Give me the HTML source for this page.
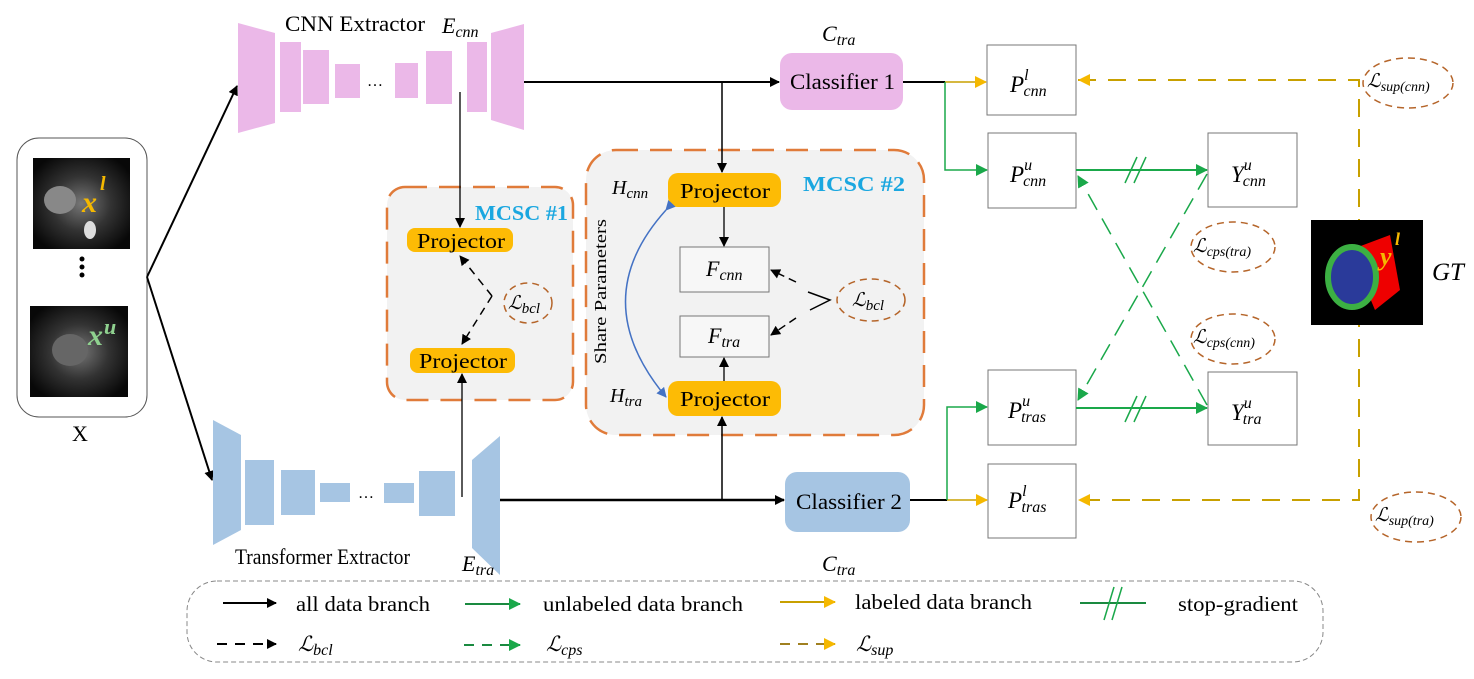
<!DOCTYPE html>
<html><head><meta charset="utf-8"><style>
html,body{margin:0;padding:0;background:#fff}
svg{display:block}
text{font-family:"Liberation Serif",serif}
.it{font-style:italic}
</style></head><body>
<svg width="1474" height="679" viewBox="0 0 1474 679" xmlns="http://www.w3.org/2000/svg">
<defs>
<marker id="ab" markerWidth="10" markerHeight="10" refX="9" refY="5" orient="auto" markerUnits="userSpaceOnUse"><path d="M0,0 L10,5 L0,10 Z" fill="#000"/></marker>
<marker id="ag" markerWidth="12" markerHeight="12" refX="11" refY="6" orient="auto" markerUnits="userSpaceOnUse"><path d="M0,0 L12,6 L0,12 Z" fill="#1aa84a"/></marker>
<marker id="ay" markerWidth="12" markerHeight="12" refX="11" refY="6" orient="auto" markerUnits="userSpaceOnUse"><path d="M0,0 L12,6 L0,12 Z" fill="#f5b800"/></marker>
<marker id="abl" markerWidth="10" markerHeight="10" refX="9" refY="5" orient="auto" markerUnits="userSpaceOnUse"><path d="M0,0 L10,5 L0,10 Z" fill="#4472c4"/></marker>
<radialGradient id="mri" cx="50%" cy="50%" r="60%"><stop offset="0" stop-color="#777"/><stop offset="0.5" stop-color="#333"/><stop offset="1" stop-color="#080808"/></radialGradient>
</defs>

<!-- input box -->
<rect x="17" y="138" width="130" height="279" rx="22" fill="#fff" stroke="#555" stroke-width="1"/>
<rect x="33" y="158" width="97" height="91" fill="url(#mri)"/>
<ellipse cx="60" cy="200" rx="16" ry="14" fill="#888"/><ellipse cx="90" cy="230" rx="6" ry="9" fill="#ddd"/>
<text x="82" y="212" class="it" font-size="30" font-weight="bold" fill="#f5b800">x</text><text x="100" y="190" class="it" font-size="20" font-weight="bold" fill="#f5b800">l</text>
<circle cx="82" cy="259" r="2.5"/><circle cx="82" cy="267" r="2.5"/><circle cx="82" cy="275" r="2.5"/>
<rect x="30" y="306" width="98" height="91" fill="url(#mri)"/>
<ellipse cx="70" cy="350" rx="18" ry="16" fill="#666"/>
<text x="88" y="345" class="it" font-size="30" font-weight="bold" fill="#8fd18f">x</text><text x="104" y="334" class="it" font-size="22" font-weight="bold" fill="#8fd18f">u</text>
<text x="80" y="441" font-size="22" text-anchor="middle">X</text>
<line x1="147" y1="277" x2="237" y2="86" stroke="#000" stroke-width="2" marker-end="url(#ab)"/>
<line x1="147" y1="277" x2="212" y2="480" stroke="#000" stroke-width="2" marker-end="url(#ab)"/>

<!-- CNN extractor -->
<g fill="#ebb8e8">
<polygon points="238,23 275,33 275,123 238,133"/>
<rect x="280" y="42" width="21" height="70"/><rect x="303" y="50" width="26" height="54"/><rect x="335" y="64" width="25" height="34"/>
<rect x="395" y="63" width="23" height="35"/><rect x="426" y="51" width="26" height="53"/><rect x="467" y="42" width="20" height="70"/>
<polygon points="491,33 524,24 524,130 491,120"/>
</g>
<text x="375" y="86" font-size="16" text-anchor="middle">…</text>
<text x="285" y="31" font-size="22" textLength="140" lengthAdjust="spacingAndGlyphs">CNN Extractor</text>
<text x="442" y="33" class="it" font-size="22">E<tspan font-size="16" dy="4">cnn</tspan></text>
<text x="822" y="41" class="it" font-size="22">C<tspan font-size="16" dy="4">tra</tspan></text>

<!-- Transformer extractor -->
<g fill="#a6c5e3">
<polygon points="213,420 241,435 241,530 213,545"/>
<rect x="245" y="460" width="29" height="65"/><rect x="281" y="470" width="34" height="45"/><rect x="320" y="483" width="30" height="19"/>
<rect x="384" y="483" width="30" height="20"/><rect x="419" y="471" width="36" height="45"/>
<polygon points="472,460 500,436 500,575 472,548"/>
</g>
<text x="366" y="498" font-size="16" text-anchor="middle">…</text>
<text x="235" y="564" font-size="22" textLength="175" lengthAdjust="spacingAndGlyphs">Transformer Extractor</text>
<text x="462" y="571" class="it" font-size="22">E<tspan font-size="16" dy="4">tra</tspan></text>
<text x="822" y="571" class="it" font-size="22">C<tspan font-size="16" dy="4">tra</tspan></text>

<!-- MCSC #1 -->
<rect x="387" y="187" width="186" height="213" rx="18" fill="#f2f2f2" stroke="#e07b3a" stroke-width="2.5" stroke-dasharray="22,12"/>
<text x="475" y="220" font-size="21" font-weight="bold" fill="#1aa7e0" textLength="93" lengthAdjust="spacingAndGlyphs">MCSC #1</text>
<rect x="407" y="228" width="106" height="24" rx="8" fill="#fdbb05"/><text x="417" y="248" font-size="21" textLength="88" lengthAdjust="spacingAndGlyphs">Projector</text>
<rect x="410" y="348" width="105" height="25" rx="8" fill="#fdbb05"/><text x="419" y="368" font-size="21" textLength="88" lengthAdjust="spacingAndGlyphs">Projector</text>
<ellipse cx="528" cy="303" rx="24" ry="20" fill="none" stroke="#b5652a" stroke-width="1.5" stroke-dasharray="7,5"/>
<text x="508" y="309" class="it" font-size="19">ℒ<tspan font-size="15" dy="4">bcl</tspan></text>
<path d="M492,296 L460,256" stroke="#000" stroke-width="1.5" stroke-dasharray="8,6" fill="none" marker-end="url(#ab)"/>
<path d="M492,296 L462,344" stroke="#000" stroke-width="1.5" stroke-dasharray="8,6" fill="none" marker-end="url(#ab)"/>
<line x1="460" y1="92" x2="460" y2="227" stroke="#000" stroke-width="1.3" marker-end="url(#ab)"/>
<line x1="462" y1="497" x2="462" y2="374" stroke="#000" stroke-width="1.3" marker-end="url(#ab)"/>

<!-- MCSC #2 -->
<rect x="586" y="150" width="338" height="285" rx="30" fill="#f2f2f2" stroke="#e07b3a" stroke-width="2.5" stroke-dasharray="22,12"/>
<text x="803" y="191" font-size="21" font-weight="bold" fill="#1aa7e0" textLength="102" lengthAdjust="spacingAndGlyphs">MCSC #2</text>
<rect x="668" y="173" width="113" height="34" rx="10" fill="#fdbb05"/><text x="680" y="198" font-size="21" textLength="90" lengthAdjust="spacingAndGlyphs">Projector</text>
<rect x="668" y="381" width="113" height="35" rx="10" fill="#fdbb05"/><text x="680" y="406" font-size="21" textLength="90" lengthAdjust="spacingAndGlyphs">Projector</text>
<rect x="680" y="247" width="89" height="45" fill="#f7f7f7" stroke="#777"/>
<text x="706" y="276" class="it" font-size="22">F<tspan font-size="16" dy="4">cnn</tspan></text>
<rect x="680" y="316" width="89" height="41" fill="#f7f7f7" stroke="#777"/>
<text x="708" y="343" class="it" font-size="22">F<tspan font-size="16" dy="4">tra</tspan></text>
<text x="612" y="194" class="it" font-size="20">H<tspan font-size="15" dy="4">cnn</tspan></text>
<text x="610" y="402" class="it" font-size="20">H<tspan font-size="15" dy="4">tra</tspan></text>
<text transform="translate(606,364) rotate(-90)" font-size="17" textLength="145" lengthAdjust="spacingAndGlyphs">Share Parameters</text>
<path d="M666,210 Q585,300 666,397" fill="none" stroke="#4472c4" stroke-width="1.5" marker-end="url(#abl)" marker-start="url(#abl)"/>
<line x1="724" y1="207" x2="724" y2="246" stroke="#000" stroke-width="1.3" marker-end="url(#ab)"/>
<line x1="724" y1="381" x2="724" y2="358" stroke="#000" stroke-width="1.3" marker-end="url(#ab)"/>
<path d="M808,292 L830,300 L810,310" fill="none" stroke="#000" stroke-width="1.5"/>
<line x1="796" y1="282" x2="771" y2="270" stroke="#000" stroke-width="1.5" stroke-dasharray="8,5" marker-end="url(#ab)"/>
<line x1="796" y1="318" x2="771" y2="335" stroke="#000" stroke-width="1.5" stroke-dasharray="8,5" marker-end="url(#ab)"/>
<ellipse cx="871" cy="300" rx="34" ry="21" fill="none" stroke="#b5652a" stroke-width="1.5" stroke-dasharray="7,5"/>
<text x="852" y="306" class="it" font-size="19">ℒ<tspan font-size="15" dy="4">bcl</tspan></text>

<!-- main flows -->
<line x1="524" y1="82" x2="779" y2="82" stroke="#000" stroke-width="2" marker-end="url(#ab)"/>
<line x1="722" y1="82" x2="722" y2="172" stroke="#000" stroke-width="1.5" marker-end="url(#ab)"/>
<line x1="500" y1="500" x2="784" y2="500" stroke="#000" stroke-width="2.5" marker-end="url(#ab)"/>
<line x1="722" y1="500" x2="722" y2="417" stroke="#000" stroke-width="1.5" marker-end="url(#ab)"/>
<rect x="780" y="53" width="123" height="57" rx="12" fill="#ebb8e8"/><text x="790" y="89" font-size="22" textLength="105" lengthAdjust="spacingAndGlyphs">Classifier 1</text>
<rect x="785" y="472" width="125" height="60" rx="12" fill="#a6c5e3"/><text x="796" y="509" font-size="22" textLength="106" lengthAdjust="spacingAndGlyphs">Classifier 2</text>
<line x1="903" y1="82" x2="945" y2="82" stroke="#000" stroke-width="2"/>
<line x1="910" y1="500" x2="947" y2="500" stroke="#000" stroke-width="2"/>
<line x1="945" y1="82" x2="986" y2="82" stroke="#c8a000" stroke-width="1.5" marker-end="url(#ay)"/>
<polyline points="945,82 945,170 987,170" fill="none" stroke="#1aa84a" stroke-width="1.5" marker-end="url(#ag)"/>
<line x1="947" y1="500" x2="987" y2="500" stroke="#c8a000" stroke-width="1.5" marker-end="url(#ay)"/>
<polyline points="947,500 947,407 987,407" fill="none" stroke="#1aa84a" stroke-width="1.5" marker-end="url(#ag)"/>

<!-- prediction boxes -->
<g fill="#fff" stroke="#777">
<rect x="987" y="45" width="89" height="70"/><rect x="988" y="133" width="88" height="75"/>
<rect x="1208" y="133" width="89" height="74"/><rect x="988" y="370" width="88" height="75"/>
<rect x="1208" y="372" width="89" height="73"/><rect x="988" y="464" width="88" height="74"/>
</g>
<g class="it" font-size="23">
<text x="1010" y="92">P<tspan font-size="16" dx="0" dy="-12">l</tspan><tspan font-size="16" dx="-5" dy="16">cnn</tspan></text>
<text x="1010" y="182">P<tspan font-size="16" dx="0" dy="-12">u</tspan><tspan font-size="16" dx="-9" dy="16">cnn</tspan></text>
<text x="1231" y="182">Y<tspan font-size="16" dx="0" dy="-12">u</tspan><tspan font-size="16" dx="-9" dy="16">cnn</tspan></text>
<text x="1008" y="418">P<tspan font-size="16" dx="0" dy="-12">u</tspan><tspan font-size="16" dx="-9" dy="16">tras</tspan></text>
<text x="1231" y="420">Y<tspan font-size="16" dx="0" dy="-12">u</tspan><tspan font-size="16" dx="-9" dy="16">tra</tspan></text>
<text x="1008" y="508">P<tspan font-size="16" dx="0" dy="-12">l</tspan><tspan font-size="16" dx="-5" dy="16">tras</tspan></text>
</g>
<line x1="1076" y1="170" x2="1207" y2="170" stroke="#1aa84a" stroke-width="2" marker-end="url(#ag)"/>
<line x1="1076" y1="408" x2="1207" y2="408" stroke="#1aa84a" stroke-width="2" marker-end="url(#ag)"/>
<g stroke="#1aa84a" stroke-width="1.5"><line x1="1125" y1="183" x2="1137" y2="157"/><line x1="1134" y1="183" x2="1146" y2="157"/>
<line x1="1125" y1="422" x2="1137" y2="396"/><line x1="1134" y1="422" x2="1146" y2="396"/></g>
<line x1="1207" y1="174" x2="1078" y2="400" stroke="#1aa84a" stroke-width="1.5" stroke-dasharray="18,10" marker-end="url(#ag)"/>
<line x1="1207" y1="405" x2="1078" y2="176" stroke="#1aa84a" stroke-width="1.5" stroke-dasharray="18,10" marker-end="url(#ag)"/>

<!-- loss ellipses -->
<g fill="none" stroke="#b5652a" stroke-width="1.5" stroke-dasharray="7,5">
<ellipse cx="1233" cy="247" rx="42" ry="25"/><ellipse cx="1233" cy="339" rx="42" ry="25"/>
<ellipse cx="1408" cy="83" rx="45" ry="25"/><ellipse cx="1416" cy="517" rx="45" ry="25"/>
</g>
<g class="it" font-size="19">
<text x="1193" y="252">ℒ<tspan font-size="14" dy="4">cps(tra)</tspan></text>
<text x="1193" y="343">ℒ<tspan font-size="14" dy="4">cps(cnn)</tspan></text>
<text x="1367" y="87">ℒ<tspan font-size="14" dy="4">sup(cnn)</tspan></text>
<text x="1375" y="521">ℒ<tspan font-size="14" dy="4">sup(tra)</tspan></text>
</g>

<!-- GT -->
<polyline points="1078,80 1359,80 1359,500 1078,500" fill="none" stroke="#c8a000" stroke-width="2" stroke-dasharray="18,12"/>
<path d="M1090,74 L1078,80 L1090,86 Z M1090,494 L1078,500 L1090,506 Z" fill="#f5b800"/>
<rect x="1311" y="220" width="112" height="105" fill="#000"/>
<polygon points="1350,250 1390,235 1400,290 1375,310" fill="#e00"/>
<ellipse cx="1352" cy="277" rx="24" ry="30" fill="#2a3a9a" stroke="#3cb043" stroke-width="6"/>
<text x="1380" y="265" class="it" font-size="26" font-weight="bold" fill="#f5b800">y</text><text x="1395" y="245" class="it" font-size="18" font-weight="bold" fill="#f5b800">l</text>
<text x="1432" y="280" class="it" font-size="25">GT</text>

<!-- legend -->
<rect x="187" y="581" width="1136" height="81" rx="30" fill="none" stroke="#888" stroke-dasharray="5,3"/>
<g font-size="21">
<line x1="223" y1="603" x2="276" y2="603" stroke="#000" stroke-width="2" marker-end="url(#ab)"/><text x="296" y="611" textLength="134" lengthAdjust="spacingAndGlyphs">all data branch</text>
<line x1="465" y1="604" x2="520" y2="604" stroke="#1a8a40" stroke-width="2" marker-end="url(#ag)"/><text x="543" y="611" textLength="200" lengthAdjust="spacingAndGlyphs">unlabeled data branch</text>
<line x1="780" y1="602" x2="835" y2="602" stroke="#c8a000" stroke-width="2" marker-end="url(#ay)"/><text x="855" y="609" textLength="177" lengthAdjust="spacingAndGlyphs">labeled data branch</text>
<line x1="1080" y1="603" x2="1146" y2="603" stroke="#1a8a40" stroke-width="2"/>
<line x1="1104" y1="620" x2="1114" y2="587" stroke="#1aa84a" stroke-width="1.5"/><line x1="1112" y1="620" x2="1122" y2="587" stroke="#1aa84a" stroke-width="1.5"/>
<text x="1178" y="611" textLength="120" lengthAdjust="spacingAndGlyphs">stop-gradient</text>
<line x1="217" y1="644" x2="276" y2="644" stroke="#000" stroke-width="2" stroke-dasharray="10,8" marker-end="url(#ab)"/><text x="298" y="651" class="it">ℒ<tspan font-size="16" dy="4">bcl</tspan></text>
<line x1="464" y1="645" x2="520" y2="645" stroke="#1a8a40" stroke-width="2" stroke-dasharray="10,8" marker-end="url(#ag)"/><text x="546" y="651" class="it">ℒ<tspan font-size="16" dy="4">cps</tspan></text>
<line x1="780" y1="644" x2="835" y2="644" stroke="#a08020" stroke-width="2" stroke-dasharray="10,8" marker-end="url(#ay)"/><text x="856" y="651" class="it">ℒ<tspan font-size="16" dy="4">sup</tspan></text>
</g>
</svg>
</body></html>
